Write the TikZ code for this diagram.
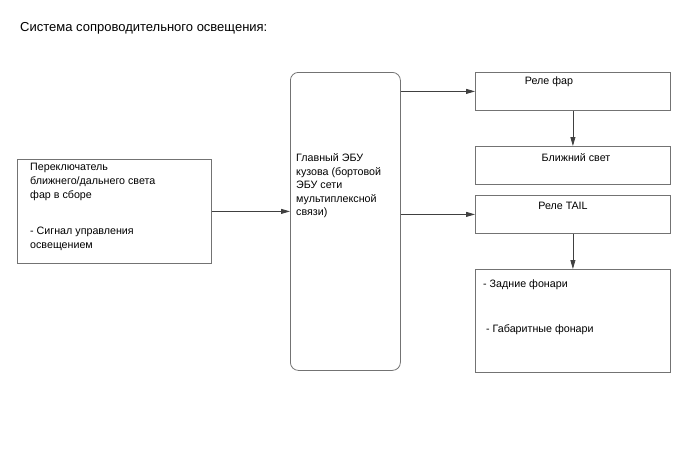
\documentclass[tikz,border=0pt]{standalone}
\usepackage{fontspec}
\setmainfont{Liberation Sans}
\usetikzlibrary{arrows.meta}
\begin{document}
\begin{tikzpicture}[x=1pt,y=-1pt,
  box/.style={draw=black!55,line width=0.8pt,rectangle,anchor=north west,inner sep=0pt},
  txt/.style={font=\fontsize{10.7}{13.5}\selectfont,inner sep=0pt,align=left},
  conn/.style={draw=black!75,line width=0.8pt,-{Triangle[length=9pt,width=5pt]}}]
\useasboundingbox (0,0) rectangle (688,463);
\node[anchor=base west,inner sep=0pt,font=\fontsize{13}{15}\selectfont] (title) at (20,31.5) {Система сопроводительного освещения:};
% boxes
\node[box,minimum width=194pt,minimum height=104pt] (sw) at (17,159) {};
\node[box,rounded corners=8pt,minimum width=110pt,minimum height=298pt] (ecu) at (290,72) {};
\node[box,minimum width=195pt,minimum height=38pt] (rf) at (475,72) {};
\node[box,minimum width=195pt,minimum height=38pt] (lb) at (475,146) {};
\node[box,minimum width=195pt,minimum height=38pt] (rt) at (475,195) {};
\node[box,minimum width=195pt,minimum height=103pt] (tl) at (475,269) {};
% texts
\node[txt,anchor=north west,font=\fontsize{10.7}{14}\selectfont] (swt) at (30,163) {Переключатель\\ближнего/дальнего света\\фар в сборе\\[22pt]- Сигнал управления\\освещением};
\node[txt,anchor=north west,font=\fontsize{10.7}{13.5}\selectfont] (ecut) at (296,153.5) {Главный ЭБУ\\кузова (бортовой\\ЭБУ сети\\мультиплексной\\связи)};
\node[txt,anchor=base] (rft) at (549,84) {Реле фар};
\node[txt,anchor=base] (lbt) at (576,161) {Ближний свет};
\node[txt,anchor=base] (rtt) at (563,209) {Реле TAIL};
\node[txt,anchor=base west] (tl1) at (483,287) {- Задние фонари};
\node[txt,anchor=base west] (tl2) at (486,332) {- Габаритные фонари};
% connectors
\draw[conn] (sw.east) -- (ecu.west |- sw.east);
\draw[conn] (ecu.east |- rf.west) -- (rf.west);
\draw[conn] (ecu.east |- rt.west) -- (rt.west);
\draw[conn] (rf.south) -- (lb.north);
\draw[conn] (rt.south) -- (tl.north);
\end{tikzpicture}
\end{document}
